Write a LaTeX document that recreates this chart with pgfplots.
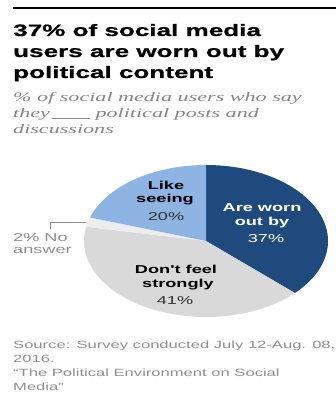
\documentclass[border=0pt]{standalone}
\usepackage{fontspec}
\setmainfont{Liberation Sans}
\newfontfamily\titlefont[FakeStretch=1.58, BoldFeatures={FakeBold=0.8}]{Liberation Sans}
\newfontfamily\subfont[FakeStretch=1.70]{Liberation Serif}
\newfontfamily\sfont[FakeStretch=1.58]{Liberation Sans}
\usepackage{pgfplots}
\usepackage{pgfplotstable}
\pgfplotsset{compat=1.18}
\definecolor{worn}{HTML}{1F4A7D}
\definecolor{like}{HTML}{8EB4E3}
\definecolor{dontfeel}{HTML}{D9D9D9}
\definecolor{noans}{HTML}{EDEDED}
\definecolor{subgray}{HTML}{858585}
\definecolor{srcgray}{HTML}{8F8F8F}

\pgfplotstableread{
label value
worn 37
dontfeel 41
noanswer 2
like 20
}\piedata

\begin{document}
\begin{tikzpicture}
\pgfplotstablegetelem{0}{value}\of\piedata \let\vA\pgfplotsretval
\pgfplotstablegetelem{1}{value}\of\piedata \let\vB\pgfplotsretval
\pgfplotstablegetelem{2}{value}\of\piedata \let\vC\pgfplotsretval
\pgfplotstablegetelem{3}{value}\of\piedata \let\vD\pgfplotsretval
\pgfmathsetmacro\aA{90-3.6*\vA}
\pgfmathsetmacro\aB{\aA-3.6*\vB}
\pgfmathsetmacro\aC{\aB-3.6*\vC}
\pgfmathsetmacro\aD{\aC-3.6*\vD}
\def\cx{206}\def\cy{-241}\def\rx{122}\def\ry{76}
\useasboundingbox (0,0) rectangle (336pt,395pt);
\begin{axis}[at={(0pt,0pt)}, anchor=south west, width=336pt, height=395pt,
  scale only axis, xmin=0, xmax=336, ymin=-395, ymax=0, hide axis, clip=false]
\addplot[fill=worn, draw=none, domain=\aA:90, samples=90, variable=\t]
  ({\cx+\rx*cos(\t)},{\cy+\ry*sin(\t)}) -- (axis cs:\cx,\cy) -- cycle;
\addplot[fill=dontfeel, draw=none, domain=\aB:\aA, samples=90, variable=\t]
  ({\cx+\rx*cos(\t)},{\cy+\ry*sin(\t)}) -- (axis cs:\cx,\cy) -- cycle;
\addplot[fill=noans, draw=none, domain=\aC:\aB, samples=10, variable=\t]
  ({\cx+\rx*cos(\t)},{\cy+\ry*sin(\t)}) -- (axis cs:\cx,\cy) -- cycle;
\addplot[fill=like, draw=none, domain=\aD:\aC, samples=60, variable=\t]
  ({\cx+\rx*cos(\t)},{\cy+\ry*sin(\t)}) -- (axis cs:\cx,\cy) -- cycle;

% top rule
\draw[black, line width=1.3pt] (axis cs:13,-8) -- (axis cs:336,-8);
% title
\begin{scope}[every node/.style={anchor=base west, inner sep=0pt, font=\titlefont\bfseries\fontsize{16.5}{20}\selectfont}]
\node at (axis cs:13,-36) {37\% of social media};
\node at (axis cs:13,-57) {users are worn out by};
\node at (axis cs:13,-78) {political content};
\end{scope}
% subtitle
\begin{scope}[every node/.style={anchor=base west, inner sep=0pt, text=subgray, font=\subfont\itshape\fontsize{13}{15}\selectfont}]
\node at (axis cs:13,-102) {\% of social media users who say};
\node at (axis cs:13,-118) {they\hspace{2pt}\rule[-0.5pt]{38pt}{0.8pt} political posts and};
\node at (axis cs:13,-134) {discussions};
\end{scope}
% pie labels
\begin{scope}[every node/.style={anchor=base, inner sep=0pt, font=\sfont\fontsize{11.5}{13}\selectfont}]
\node[font=\sfont\bfseries\fontsize{11.5}{13}\selectfont] at (axis cs:166,-190) {Like};
\node[font=\sfont\bfseries\fontsize{11.5}{13}\selectfont] at (axis cs:165,-203) {seeing};
\node[text=black!80] at (axis cs:166,-221) {20\%};
\node[text=white, font=\sfont\bfseries\fontsize{11.5}{13}\selectfont] at (axis cs:262,-212) {Are worn};
\node[text=white, font=\sfont\bfseries\fontsize{11.5}{13}\selectfont] at (axis cs:262,-226) {out by};
\node[text=white] at (axis cs:266,-243) {37\%};
\node[font=\sfont\bfseries\fontsize{11.5}{13}\selectfont] at (axis cs:176,-274) {Don't feel};
\node[font=\sfont\bfseries\fontsize{11.5}{13}\selectfont] at (axis cs:178,-288) {strongly};
\node[text=black!80] at (axis cs:175,-305) {41\%};
\end{scope}
% no answer label
\draw[srcgray, line width=0.6pt] (axis cs:50,-229) -- (axis cs:50,-222) -- (axis cs:86,-222);
\begin{scope}[every node/.style={anchor=base west, inner sep=0pt, text=srcgray, font=\sfont\fontsize{11.5}{13}\selectfont}]
\node at (axis cs:13,-242) {2\% No};
\node at (axis cs:13,-254) {answer};
\end{scope}
% source
\begin{scope}[every node/.style={anchor=base west, inner sep=0pt, text=srcgray, font=\sfont\fontsize{10.5}{12}\selectfont}]
\node at (axis cs:13,-349) {Source: Survey conducted July 12-Aug. 08,};
\node at (axis cs:13,-363) {2016.};
\node at (axis cs:13,-377) {“The Political Environment on Social};
\node at (axis cs:13,-390) {Media”};
\end{scope}
\end{axis}
\end{tikzpicture}
\end{document}
